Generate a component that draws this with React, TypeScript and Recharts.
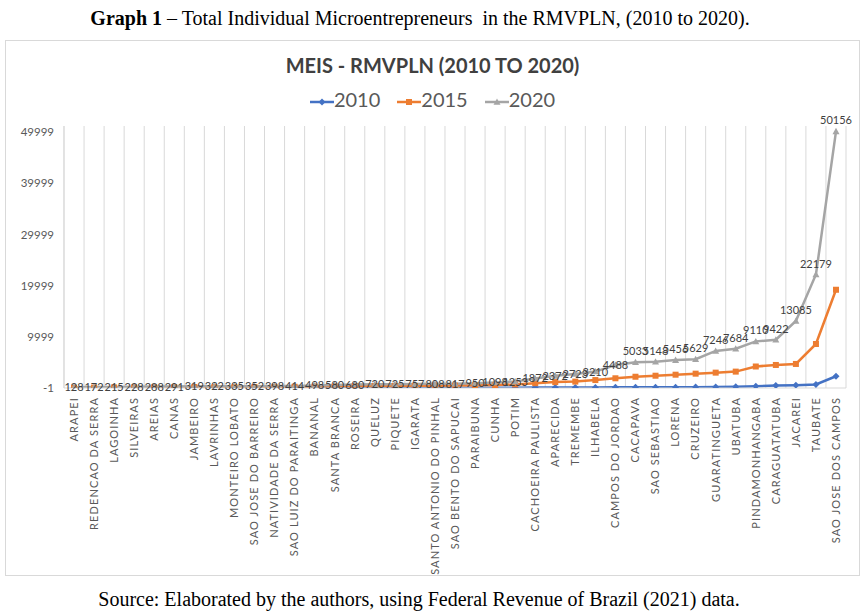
import React from 'react';
import { LineChart, Line, XAxis, YAxis, CartesianGrid, LabelList } from 'recharts';

const categories = [
  'ARAPEI', 'REDENCAO DA SERRA', 'LAGOINHA', 'SILVEIRAS', 'AREIAS', 'CANAS', 'JAMBEIRO', 'LAVRINHAS',
  'MONTEIRO LOBATO', 'SAO JOSE DO BARREIRO', 'NATIVIDADE DA SERRA', 'SAO LUIZ DO PARAITINGA', 'BANANAL',
  'SANTA BRANCA', 'ROSEIRA', 'QUELUZ', 'PIQUETE', 'IGARATA', 'SANTO ANTONIO DO PINHAL', 'SAO BENTO DO SAPUCAI',
  'PARAIBUNA', 'CUNHA', 'POTIM', 'CACHOEIRA PAULISTA', 'APARECIDA', 'TREMEMBE', 'ILHABELA', 'CAMPOS DO JORDAO',
  'CACAPAVA', 'SAO SEBASTIAO', 'LORENA', 'CRUZEIRO', 'GUARATINGUETA', 'UBATUBA', 'PINDAMONHANGABA',
  'CARAGUATATUBA', 'JACAREI', 'TAUBATE', 'SAO JOSE DOS CAMPOS',
];

const values2010 = [
  5, 8, 10, 12, 14, 15, 18, 16, 20, 22, 24, 26, 30, 34, 38, 40, 42, 44, 48, 50,
  55, 60, 70, 80, 90, 100, 110, 130, 140, 150, 160, 170, 190, 230, 350, 480, 560, 700, 2300,
];

const values2015 = [
  60, 90, 120, 130, 150, 170, 190, 180, 200, 210, 220, 240, 280, 320, 380, 390, 410, 420, 460, 470,
  520, 580, 700, 950, 1150, 1250, 1550, 1900, 2200, 2400, 2600, 2800, 3000, 3200, 4200, 4500, 4700, 8600, 19200,
];

const values2020 = [
  128, 172, 215, 228, 288, 291, 319, 322, 335, 352, 398, 414, 498, 580, 680, 720, 725, 757, 808, 817,
  950, 1098, 1253, 1872, 2372, 2723, 3210, 4488, 5033, 5148, 5456, 5629, 7246, 7684, 9110, 9422, 13085, 22179, 50156,
];

const yTicks = [-1, 9999, 19999, 29999, 39999, 49999];
const seriesNames = ['2010', '2015', '2020'];

const BLUE = '#4472C4';
const ORANGE = '#ED7D31';
const GRAY = '#A5A5A5';

const data = categories.map((c, i) => ({
  name: c,
  y2010: values2010[i],
  y2015: values2015[i],
  y2020: values2020[i],
}));

const FONT = 'Lato, "Liberation Sans", Arial, sans-serif';

const DiamondDot = (props: any) => {
  const { cx, cy, index } = props;
  if (cx == null || cy == null) return null;
  const r = 3.5;
  return (
    <polygon
      key={`d-${index}`}
      points={`${cx},${cy - r} ${cx + r},${cy} ${cx},${cy + r} ${cx - r},${cy}`}
      fill={BLUE}
    />
  );
};

const SquareDot = (props: any) => {
  const { cx, cy, index } = props;
  if (cx == null || cy == null) return null;
  const s = 3;
  return <rect key={`s-${index}`} x={cx - s} y={cy - s} width={s * 2} height={s * 2} fill={ORANGE} />;
};

const TriangleDot = (props: any) => {
  const { cx, cy, index } = props;
  if (cx == null || cy == null) return null;
  const r = 3.5;
  return (
    <polygon
      key={`t-${index}`}
      points={`${cx},${cy - r} ${cx + r},${cy + r * 0.8} ${cx - r},${cy + r * 0.8}`}
      fill={GRAY}
    />
  );
};

const XTick = (props: any) => {
  const { x, y, payload } = props;
  return (
    <g transform={`translate(${x},${y})`}>
      <text
        x={0}
        y={0}
        dy="0.35em"
        transform="rotate(-90)"
        textAnchor="end"
        fill="#595959"
        fontSize={11}
        fontFamily={FONT}
        letterSpacing={1.1}
      >
        {payload.value}
      </text>
    </g>
  );
};

const DataLabel = (props: any) => {
  const { x, y, value } = props;
  if (x == null || y == null) return null;
  const above = value > 5000;
  return (
    <text
      x={x}
      y={above ? y - 7 : y + 4}
      textAnchor="middle"
      fill="#404040"
      fontSize={11}
      fontFamily={FONT}
    >
      {value}
    </text>
  );
};

const gridGen = (props: any) => {
  const { offset } = props;
  const n = categories.length;
  const band = offset.width / n;
  const out: number[] = [];
  for (let i = 0; i <= n; i++) out.push(offset.left + i * band);
  return out;
};

const LegendIcon = ({ color, kind }: { color: string; kind: number }) => (
  <svg width={24} height={12} style={{ display: 'inline-block', verticalAlign: 'middle' }}>
    <line x1={0} y1={6} x2={24} y2={6} stroke={color} strokeWidth={2.5} />
    {kind === 0 && <polygon points="12,2.5 15.5,6 12,9.5 8.5,6" fill={color} />}
    {kind === 1 && <rect x={9} y={3} width={6} height={6} fill={color} />}
    {kind === 2 && <polygon points="12,2.5 15.5,8.8 8.5,8.8" fill={color} />}
  </svg>
);

export default function App() {
  const colors = [BLUE, ORANGE, GRAY];
  return (
    <div
      style={{
        position: 'absolute',
        left: 0,
        top: 0,
        width: 865,
        height: 613,
        background: '#ffffff',
        overflow: 'hidden',
      }}
    >
      <div
        style={{
          position: 'absolute',
          left: 0,
          top: 6,
          width: 840,
          textAlign: 'center',
          fontFamily: '"Liberation Serif", "Times New Roman", serif',
          fontSize: 20,
          lineHeight: '24px',
          color: '#000',
          whiteSpace: 'pre',
        }}
      >
        <b>Graph 1</b>
        {' – Total Individual Microentrepreneurs  in the RMVPLN, (2010 to 2020).'}
      </div>

      <div
        style={{
          position: 'absolute',
          left: 5,
          top: 40,
          width: 853,
          height: 534,
          border: '1px solid #d9d9d9',
          background: '#fff',
        }}
      >
        <div
          style={{
            position: 'absolute',
            left: 0,
            top: 12,
            width: 853,
            textAlign: 'center',
            fontFamily: FONT,
            fontWeight: 'bold',
            fontSize: 20,
            color: '#404040',
            lineHeight: '24px',
          }}
        >
          MEIS - RMVPLN (2010 TO 2020)
        </div>
        <div
          style={{
            position: 'absolute',
            left: 0,
            top: 46,
            width: 853,
            textAlign: 'center',
            fontFamily: FONT,
            fontSize: 20,
            color: '#595959',
            lineHeight: '24px',
          }}
        >
          {seriesNames.map((s, i) => (
            <span key={s} style={{ marginLeft: i === 0 ? 0 : 17 }}>
              <LegendIcon color={colors[i]} kind={i} />
              {s}
            </span>
          ))}
        </div>

        <LineChart
          width={853}
          height={534}
          data={data}
          margin={{ top: 85, right: 13, bottom: 0, left: 0 }}
        >
          <CartesianGrid
            horizontal={false}
            vertical={true}
            stroke="#d9d9d9"
            verticalCoordinatesGenerator={gridGen}
          />
          <XAxis
            dataKey="name"
            interval={0}
            height={187}
            padding={{ left: 10, right: 10 }}
            tick={<XTick />}
            tickLine={false}
            tickSize={0}
            tickMargin={9}
            axisLine={{ stroke: '#d9d9d9' }}
          />
          <YAxis
            width={58}
            domain={[-1, 51200]}
            ticks={yTicks}
            type="number"
            allowDataOverflow={true}
            tickLine={false}
            tickSize={0}
            tickMargin={10}
            axisLine={{ stroke: '#d9d9d9' }}
            tick={{ fill: '#595959', fontSize: 11.5, fontFamily: FONT }}
          />
          <Line
            dataKey="y2010"
            name="2010"
            stroke={BLUE}
            strokeWidth={2.5}
            dot={DiamondDot}
            activeDot={false}
            isAnimationActive={false}
          />
          <Line
            dataKey="y2015"
            name="2015"
            stroke={ORANGE}
            strokeWidth={2.5}
            dot={SquareDot}
            activeDot={false}
            isAnimationActive={false}
          />
          <Line
            dataKey="y2020"
            name="2020"
            stroke={GRAY}
            strokeWidth={2.5}
            dot={TriangleDot}
            activeDot={false}
            isAnimationActive={false}
          >
            <LabelList dataKey="y2020" content={DataLabel} />
          </Line>
        </LineChart>
      </div>

      <div
        style={{
          position: 'absolute',
          left: 0,
          top: 587,
          width: 838,
          textAlign: 'center',
          fontFamily: '"Liberation Serif", "Times New Roman", serif',
          fontSize: 20,
          lineHeight: '24px',
          color: '#000',
          whiteSpace: 'pre',
        }}
      >
        Source: Elaborated by the authors, using Federal Revenue of Brazil (2021) data.
      </div>
    </div>
  );
}
